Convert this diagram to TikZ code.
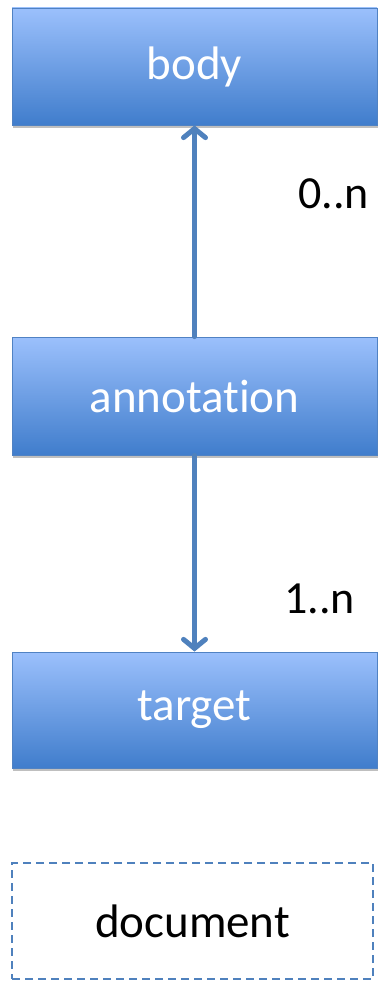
\documentclass[tikz,border=0pt]{standalone}
\usepackage{fontspec}
\setmainfont{Carlito}[Ligatures=NoCommon]
\usetikzlibrary{arrows.meta,shadows}
\definecolor{boxtop}{RGB}{155,192,252}
\definecolor{boxbot}{RGB}{64,125,204}
\definecolor{boxedge}{RGB}{80,130,195}
\definecolor{conn}{RGB}{79,129,189}
\tikzset{
  umlbox/.style={rectangle, draw=boxedge, line width=0.8pt, top color=boxtop, bottom color=boxbot,
    minimum width=365pt, inner sep=0pt, text=white,
    font=\fontsize{47}{56}\selectfont,
    drop shadow={shadow xshift=1pt, shadow yshift=-3pt, opacity=0.25, fill=black}},
  docbox/.style={rectangle, draw=conn, line width=1.5pt, dash pattern=on 8pt off 5pt,
    minimum width=361pt, minimum height=116pt, inner sep=0pt, text=black,
    font=\fontsize{47}{56}\selectfont},
  link/.style={draw=conn, line width=5pt, line cap=round,
    -{Straight Barb[length=9pt,width=22pt,line cap=round]}},
  mult/.style={font=\fontsize{46}{55}\selectfont, text=black, inner sep=0pt, anchor=base west}
}
\begin{document}
\begin{tikzpicture}[x=1pt,y=1pt]
\useasboundingbox (0,0) rectangle (378,-982);
\node[umlbox, minimum height=117pt] (body) at (194.5,-66.5) {body};
\node[umlbox, minimum height=118pt] (annotation) at (194.5,-396) {annotation};
\node[umlbox, minimum height=116pt] (target) at (194.5,-710) {target};
\node[docbox] (document) at (192.5,-921) {document};
\draw[link] (annotation.north) -- (body.south);
\draw[link] (annotation.south) -- (target.north);
\node[mult] (m0) at (298,-208) {0..n};
\node[mult] (m1) at (284,-613) {1..n};
\end{tikzpicture}
\end{document}
